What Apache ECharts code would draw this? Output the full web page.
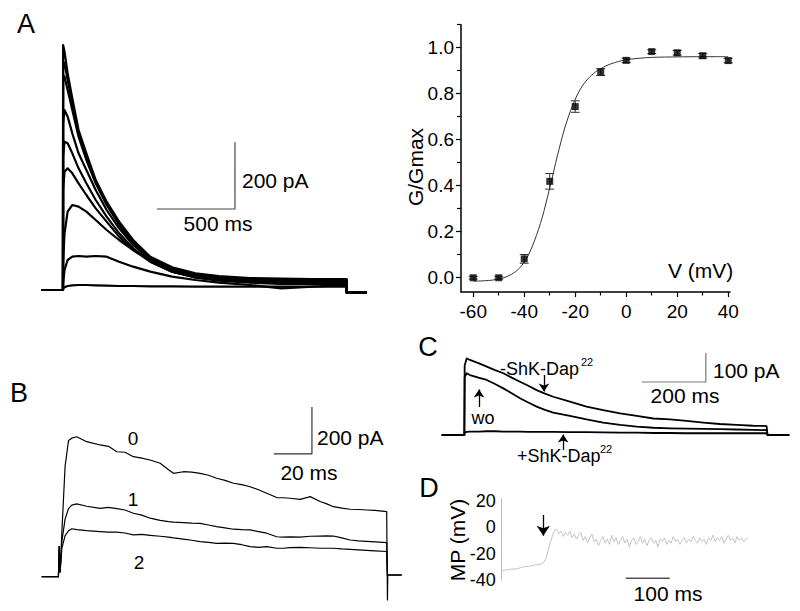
<!DOCTYPE html>
<html><head><meta charset="utf-8">
<script src="https://cdn.jsdelivr.net/npm/echarts@6/dist/echarts.min.js"></script>
<style>html,body{margin:0;padding:0;background:#fff}#c{width:800px;height:611px}</style>
</head><body><div id="c"></div>
<script>
// ---------- Panel A (left): current traces, time in ms, current in pA ----------
const tA = [-137, 0, 1, 10, 30, 60, 100, 150, 210, 280, 360, 450, 560, 700, 850, 1000, 1200, 1400, 1600, 1819, 1820, 1947];
const aTrace1 = [0, 0, 735, 715, 650, 575, 480, 410, 330, 265, 205, 150, 100, 68, 50, 42, 36, 34, 33, 33, -8, -8];
const aTrace2 = [0, 0, 685, 680, 630, 560, 470, 400, 325, 260, 200, 145, 95, 64, 47, 39, 33, 30, 30, 30, -8, -8];
const aTrace3 = [0, 0, 645, 640, 600, 540, 460, 390, 320, 255, 195, 140, 92, 62, 45, 36, 30, 28, 27, 28, -8, -8];
const aTrace4 = [0, 0, 500, 540, 520, 470, 410, 360, 300, 240, 185, 135, 90, 60, 42, 33, 27, 25, 25, 25, -8, -8];
const aTrace5 = [0, 0, 400, 445, 440, 410, 365, 320, 270, 220, 170, 125, 85, 55, 38, 30, 25, 22, 22, 22, -8, -8];
const aTrace6 = [0, 0, 300, 355, 365, 350, 320, 285, 245, 205, 160, 120, 85, 55, 38, 30, 24, 20, 20, 20, -8, -8];
const aTrace7 = [0, 0, 80, 170, 235, 255, 250, 235, 210, 180, 150, 120, 88, 55, 38, 28, 22, 18, 18, 18, -8, -8];
const aTrace8 = [0, 0, 20, 60, 90, 100, 102, 100, 102, 100, 85, 70, 55, 40, 30, 22, 15, 5, 10, 15, -8, -8];
const aTrace9 = [0, 0, 5, 8, 12, 14, 15, 15, 14, 13, 12, 12, 11, 11, 10, 10, 10, 10, 10, 10, -8, -8];
const scaleA = [[602, 243], [1103, 243], [1103, 443]];

// ---------- Panel A (right): G/Gmax vs V ----------
const gvV = [-60, -50, -40, -30, -20, -10, 0, 10, 20, 30, 40];
const gvMean = [0.0, 0.0, 0.082, 0.419, 0.744, 0.894, 0.945, 0.983, 0.978, 0.965, 0.944];
const gvErr = [0.006, 0.006, 0.019, 0.034, 0.025, 0.015, 0.01, 0.008, 0.01, 0.01, 0.01];
const fitV = [-60, -57, -54, -51, -48, -45, -42, -39, -36, -33, -30, -27, -24, -21, -18, -15, -12, -9, -6, -3, 0, 5, 10, 20, 30, 40];
const fitG = [-0.015, -0.014, -0.012, -0.008, 0.0, 0.015, 0.04, 0.085, 0.16, 0.26, 0.39, 0.53, 0.655, 0.75, 0.82, 0.865, 0.895, 0.915, 0.93, 0.94, 0.948, 0.954, 0.958, 0.96, 0.961, 0.961];
const gvXTicks = [-60, -40, -20, 0, 20, 40];
const gvXMinor = [-50, -30, -10, 10, 30];
const gvYTicks = [0, 0.2, 0.4, 0.6, 0.8, 1.0];
const gvYMinor = [0.1, 0.3, 0.5, 0.7, 0.9, 1.1];

// ---------- Panel B: traces 0, 1, 2 ----------
const tB = [-8.8, 0, 0.4, 0.9, 1.8, 3.5, 5.3, 7, 9.6, 14.9, 21.9, 26.3, 30.7, 35, 39.4, 43.8, 48.2, 53.5, 57.9, 60.5, 65.7, 70.1, 74.5, 78.9, 83.2, 87.6, 92, 96.4, 100.8, 105.2, 109.5, 114.8, 118.3, 121.8, 127.1, 132.4, 137.6, 141.1, 144.6, 149, 153.4, 157.8, 162.1, 166.5, 172.6, 173, 173.2, 174, 180.5];
const bTrace0 = [0, 0, 128, 20, 190, 470, 580, 590, 596, 575, 561, 555, 532, 530, 511, 505, 497, 483, 455, 440, 447, 445, 440, 432, 419, 410, 398, 392, 383, 370, 355, 337, 336, 334, 329, 341, 320, 310, 298, 292, 287, 286, 284, 282, 277, -99, 7, 7, 7];
const bTrace1 = [0, 0, 128, 20, 150, 245, 290, 305, 310, 300, 291, 295, 290, 284, 270, 262, 249, 240, 234, 232, 230, 228, 227, 220, 213, 208, 202, 200, 199, 192, 185, 170, 168, 169, 168, 172, 173, 174, 173, 165, 156, 152, 150, 148, 145, 7, 7, 7, 7];
const bTrace2 = [0, 0, 128, 20, 120, 175, 195, 204, 200, 196, 192, 190, 190, 186, 178, 180, 176, 172, 168, 165, 160, 155, 149, 146, 142, 143, 142, 136, 128, 125, 128, 121, 121, 124, 125, 123, 121, 121, 121, 118, 116, 114, 112, 110, 107, 7, 7, 7, 7];
const scaleB = [[113.3, 523], [133.3, 523], [133.3, 723]];

// ---------- Panel C ----------
const tC = [-70.8, 0, 1, 7.3, 17.7, 44, 70, 96, 122, 148, 174, 200, 226, 252, 278, 330, 382, 434, 487, 539, 591, 643, 695, 747, 799, 851, 903, 945, 948, 1016];
const cMinus = [0, 0, 240, 264, 259, 248, 236, 224, 213, 198, 184, 170, 155, 143, 132, 115, 98, 86, 75, 66, 57, 54, 49, 43, 38, 35, 32, 31, 0, 0];
const cWash = [0, 0, 200, 213, 207, 198, 190, 176, 161, 144, 127, 112, 98, 87, 77, 66, 54, 43, 35, 29, 25, 23, 22, 21, 20, 19, 18, 17, 0, 0];
const cPlus = [0, 0, 8, 11, 12, 12, 13, 13, 12, 12, 12, 11, 11, 11, 11, 10, 10, 9, 8, 8, 7, 7, 6, 6, 6, 6, 6, 6, 0, 0];
const scaleC = [[555, 183], [755, 183], [755, 283]];
const arrowsC = [[[249, 207], [249, 150]], [[46, 97], [46, 157]], [[309, -52], [309, 2]]];

// ---------- Panel D: membrane potential ----------
const tD = [0, 15, 34, 50, 64, 78, 87, 95, 101, 106, 110, 114, 118, 121, 125, 130, 135, 140, 145, 150, 155, 160, 165, 170, 175, 180, 185, 190, 195, 200, 205, 210, 215, 220, 225, 230, 235, 240, 245, 250, 255, 260, 265, 270, 275, 280, 285, 290, 295, 300, 305, 310, 315, 320, 325, 330, 335, 340, 345, 350, 355, 360, 365, 370, 375, 380, 385, 390, 395, 400, 405, 410, 415, 420, 425, 430, 435, 440, 445, 450, 455, 460, 465, 470, 475, 480, 485, 490, 495, 500, 505, 510, 515, 520, 525, 530, 535, 540, 545, 550, 555, 560];
const vD = [-33, -32, -31.5, -30, -29.5, -28.5, -28, -26.8, -23.5, -17, -12, -8, -4, -2, -2, -5, -3, -7, -4, -6, -3, -8, -5, -9, -6, -4, -10, -7, -12, -8, -5, -11, -9, -14, -10, -7, -12, -9, -13, -6, -11, -8, -13, -10, -7, -12, -9, -15, -10, -8, -13, -11, -7, -12, -9, -14, -10, -8, -12, -10, -15, -9, -11, -8, -13, -10, -12, -7, -11, -9, -13, -10, -8, -12, -9, -11, -7, -10, -12, -8, -11, -9, -13, -8, -10, -6, -11, -8, -10, -7, -12, -9, -6, -10, -8, -12, -7, -10, -8, -11, -9, -8];
const scaleD = [[282, -38.7], [382, -38.7]];
const arrowD = [[[94.5, 9.3], [94.5, -6.5]]];
const dYTicks = [-40, -20, 0, 20];

// ---------- build ----------
const FONT = 'Liberation Sans, Arial, sans-serif';
const zip = (t, v) => t.map((x, i) => [x, v[i]]);
const trace = (data, xi, color, width) => ({
  type: 'line', data, xAxisIndex: xi, yAxisIndex: xi, symbol: 'none', silent: true,
  lineStyle: { color, width, join: 'round' }, z: 3
});
const bar = (data, xi, color, width) => ({
  type: 'line', data, xAxisIndex: xi, yAxisIndex: xi, symbol: 'none', silent: true,
  lineStyle: { color, width }, z: 2
});
const arrow = (segs, xi, size) => ({
  type: 'lines', coordinateSystem: 'cartesian2d', xAxisIndex: xi, yAxisIndex: xi, silent: true,
  symbol: ['none', 'arrow'], symbolSize: size,
  lineStyle: { color: '#000', width: 1.3, opacity: 1, curveness: 0 },
  data: segs.map(s => ({ coords: s })), z: 4
});
const hidden = (min, max, gi) => ({ type: 'value', gridIndex: gi, min, max, show: false });
const txt = (text, x, y, size, align, rot) => ({
  type: 'text', x, y, rotation: rot || 0, silent: true,
  style: { text, fontSize: size, fontFamily: FONT, fill: '#000',
    align: align || 'left', verticalAlign: 'middle', textAlign: align || 'left', textVerticalAlign: 'middle' }
});

const aTraces = [aTrace1, aTrace2, aTrace3, aTrace4, aTrace5, aTrace6, aTrace7, aTrace8, aTrace9];

const option = {
  animation: false,
  backgroundColor: '#fff',
  textStyle: { fontFamily: FONT },
  grid: [
    { left: 41.6, top: 40, width: 325, height: 260 },
    { left: 461, top: 24.7, width: 269, height: 267.3 },
    { left: 41.7, top: 400.6, width: 360, height: 204.2 },
    { left: 441.7, top: 350.1, width: 347.6, height: 102.3 },
    { left: 501.7, top: 498.3, width: 246.4, height: 81.7 }
  ],
  xAxis: [
    hidden(-137, 1947, 0),
    { type: 'value', gridIndex: 1, min: -64.8, max: 40.7, position: 'bottom',
      axisLine: { show: true, onZero: false, lineStyle: { color: '#000', width: 1.5 } },
      axisTick: { show: true, inside: false, length: 5, customValues: gvXTicks, lineStyle: { color: '#000', width: 1.2 } },
      axisLabel: { customValues: gvXTicks, color: '#000', fontSize: 19, margin: 10, fontFamily: FONT },
      splitLine: { show: false } },
    { type: 'value', gridIndex: 1, min: -64.8, max: 40.7, position: 'bottom', offset: 0,
      axisLine: { show: false, onZero: false },
      axisTick: { show: true, inside: false, length: 3.5, customValues: gvXMinor, lineStyle: { color: '#000', width: 1.2 } },
      axisLabel: { show: false }, splitLine: { show: false } },
    hidden(-8.8, 180.5, 2),
    hidden(-70.8, 1016, 3),
    hidden(0, 560, 4)
  ],
  yAxis: [
    hidden(-30, 750, 0),
    { type: 'value', gridIndex: 1, min: -0.062, max: 1.1, position: 'left',
      axisLine: { show: true, onZero: false, lineStyle: { color: '#000', width: 1.5 } },
      axisTick: { show: true, inside: false, length: 5, customValues: gvYTicks, lineStyle: { color: '#000', width: 1.2 } },
      axisLabel: { customValues: gvYTicks, color: '#000', fontSize: 19, margin: 7, fontFamily: FONT,
        formatter: v => v.toFixed(1) },
      splitLine: { show: false } },
    { type: 'value', gridIndex: 1, min: -0.062, max: 1.1, position: 'left', offset: 0,
      axisLine: { show: false, onZero: false },
      axisTick: { show: true, inside: false, length: 4, customValues: gvYMinor, lineStyle: { color: '#000', width: 1.2 } },
      axisLabel: { show: false }, splitLine: { show: false } },
    hidden(-120, 750, 2),
    hidden(-60, 293, 3),
    { type: 'value', gridIndex: 4, min: -40, max: 22, position: 'left',
      axisLine: { show: true, onZero: false, lineStyle: { color: '#bbb', width: 1 } },
      axisTick: { show: false },
      axisLabel: { customValues: dYTicks, color: '#000', fontSize: 18, margin: 6, fontFamily: FONT },
      splitLine: { show: false } }
  ],
  series: [
    ...aTraces.map(v => trace(zip(tA, v), 0, '#000', 2.2)),
    bar(scaleA, 0, '#444', 1.2),
    { type: 'line', data: zip(fitV, fitG), xAxisIndex: 1, yAxisIndex: 1, symbol: 'none', smooth: 0.3,
      lineStyle: { color: '#333', width: 1 }, silent: true, z: 2 },
    { type: 'custom', xAxisIndex: 1, yAxisIndex: 1, silent: true, z: 3,
      data: gvV.map((v, i) => [v, gvMean[i] - gvErr[i], gvMean[i] + gvErr[i]]),
      encode: { x: 0, y: [1, 2] },
      renderItem: (params, api) => {
        const p1 = api.coord([api.value(0), api.value(1)]);
        const p2 = api.coord([api.value(0), api.value(2)]);
        const w = 4.5, st = { stroke: '#333', lineWidth: 1 };
        return { type: 'group', children: [
          { type: 'line', shape: { x1: p1[0], y1: p1[1], x2: p2[0], y2: p2[1] }, style: st },
          { type: 'line', shape: { x1: p1[0] - w, y1: p1[1], x2: p1[0] + w, y2: p1[1] }, style: st },
          { type: 'line', shape: { x1: p2[0] - w, y1: p2[1], x2: p2[0] + w, y2: p2[1] }, style: st }
        ] };
      } },
    { type: 'scatter', data: zip(gvV, gvMean), xAxisIndex: 1, yAxisIndex: 1, symbol: 'rect', symbolSize: 7,
      itemStyle: { color: '#000' }, silent: true, z: 4 },
    trace(zip(tB, bTrace0), 3, '#000', 1.2),
    trace(zip(tB, bTrace1), 3, '#000', 1.2),
    trace(zip(tB, bTrace2), 3, '#000', 1.2),
    bar(scaleB, 3, '#333', 1.2),
    trace(zip(tC, cMinus), 4, '#000', 1.8),
    trace(zip(tC, cWash), 4, '#000', 1.8),
    trace(zip(tC, cPlus), 4, '#000', 1.8),
    bar(scaleC, 4, '#777', 1.2),
    arrow(arrowsC, 4, 8),
    trace(zip(tD, vD), 5, '#c4c4c4', 1),
    bar(scaleD, 5, '#555', 1.5),
    arrow(arrowD, 5, 10)
  ],
  graphic: [
    txt('A', 26, 24, 27, 'center'),
    txt('B', 19, 393, 27, 'center'),
    txt('C', 428, 347, 27, 'center'),
    txt('D', 429, 488, 27, 'center'),
    txt('200 pA', 242, 180, 21),
    txt('500 ms', 218, 223, 21, 'center'),
    txt('G/Gmax', 415, 167, 21, 'center', Math.PI / 2),
    txt('V (mV)', 668, 270, 21),
    txt('0', 133, 438, 19, 'center'),
    txt('1', 133, 499, 19, 'center'),
    txt('2', 139, 562, 19, 'center'),
    txt('200 pA', 317, 437, 21),
    txt('20 ms', 309, 472, 21, 'center'),
    txt('100 pA', 713, 370, 21),
    txt('200 ms', 685, 395, 21, 'center'),
    txt('-ShK-Dap', 500, 369, 18),
    txt('22', 581, 362, 11),
    txt('wo', 483, 418, 18, 'center'),
    txt('+ShK-Dap', 517, 456, 18),
    txt('22', 600, 449, 11),
    txt('MP (mV)', 457, 540, 21, 'center', Math.PI / 2),
    txt('100 ms', 668, 593, 21, 'center')
  ]
};
const chart = echarts.init(document.getElementById('c'), null, { renderer: 'svg' });
chart.setOption(option);
</script></body></html>
